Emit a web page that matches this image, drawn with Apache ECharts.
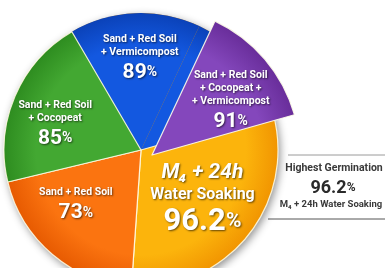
<!DOCTYPE html>
<html>
<head>
<meta charset="utf-8">
<style>
html, body { margin: 0; padding: 0; background: #fff; }
#chart { width: 385px; height: 268px; }
</style>
<script src="https://cdn.jsdelivr.net/npm/echarts@6/dist/echarts.min.js"></script>
</head>
<body>
<div id="chart"></div>
<script>
// soil mixes, clockwise from the top slice
var mixes = ['Sand + Red Soil\n+ Vermicompost', 'Sand + Red Soil\n+ Cocopeat +\n+ Vermicompost', 'M₄ + 24h\nWater Soaking', 'Sand + Red Soil', 'Sand + Red Soil\n+ Cocopeat'];
var germination = [89, 91, 96.2, 73, 85];
// share of the circle each slice takes in the picture (degrees)
var sliceShare = [55.5, 49, 109.8, 72.5, 73.2];

var font = "'Roboto', sans-serif";
var best = germination.indexOf(Math.max.apply(null, germination));
var popped = 1;

var palette = [
	['#1358e0', '#0a40b5'],
	['#8447bc', '#672c98'],
	['#fcb40c', '#f09200'],
	['#fb7410', '#e55800'],
	['#43a832', '#2c8a1e']
];
// label nudges, px
var nudgeX = [2, 20, 6, -19, -20];
var nudgeY = [-19, -3, 5, 2, 4];

function grad(i, cx, cy, r) {
	return {
		type: 'radial', x: cx, y: cy, r: r, global: true,
		colorStops: [{offset: 0, color: palette[i][0]}, {offset: 0.75, color: palette[i][0]}, {offset: 1, color: palette[i][1]}]
	};
}

function labelText(i) {
	var lines = mixes[i].split('\n');
	var out = [];
	if (i == best) {
		out.push('{big1|' + lines[0] + '}');
		out.push('{big2|' + lines[1] + '}');
		out.push('{bigNum|' + germination[i] + '}{bigPct|%}');
	} else {
		for (var k = 0; k < lines.length; k++) out.push('{name|' + lines[k] + '}');
		out.push('{num|' + germination[i] + '}{pct|%}');
	}
	return out.join('\n');
}

var labelRich = {
	name: {fontSize: 10.5, fontWeight: 'bold', color: '#fff', fontFamily: font, lineHeight: 13},
	num: {fontSize: 21, fontWeight: 'bold', color: '#fff', fontFamily: font, lineHeight: 28},
	pct: {fontSize: 14, fontWeight: 'bold', color: '#fff', fontFamily: font, lineHeight: 28},
	big1: {fontSize: 21, fontWeight: 'bold', fontStyle: 'italic', color: '#fff', fontFamily: font, lineHeight: 23},
	big2: {fontSize: 16, fontWeight: 'bold', color: '#fff', fontFamily: font, lineHeight: 21},
	bigNum: {fontSize: 31, fontWeight: 'bold', color: '#fff', fontFamily: font, lineHeight: 34},
	bigPct: {fontSize: 21, fontWeight: 'bold', color: '#fff', fontFamily: font, lineHeight: 34}
};

var mainData = [], popData = [];
for (var i = 0; i < mixes.length; i++) {
	var isPop = i == popped;
	mainData.push({
		name: mixes[i],
		value: sliceShare[i],
		itemStyle: {
			color: isPop ? grad(0, 141, 150, 140) : grad(i, 141, 150, 140),
			borderWidth: (i == 0 || isPop) ? 0 : 1.2
		},
		label: {show: !isPop}
	});
	popData.push({
		name: mixes[i],
		value: sliceShare[i],
		itemStyle: isPop ? {color: grad(i, 152, 155, 150), borderWidth: 1.2} : {color: 'rgba(0,0,0,0)', borderWidth: 0},
		label: {show: isPop}
	});
}

var labelBase = {
	position: 'inside',
	formatter: function(p) { return labelText(p.dataIndex); },
	rich: labelRich,
	textShadowColor: 'rgba(0,0,0,0.6)',
	textShadowBlur: 2,
	textShadowOffsetX: 1,
	textShadowOffsetY: 1
};

function nudge(p) {
	return {dx: nudgeX[p.dataIndex], dy: nudgeY[p.dataIndex]};
}

var myChart = echarts.init(document.getElementById('chart'));
var option = {
	animation: false,
	series: [
		{
			type: 'pie',
			silent: true,
			center: [141, 150],
			radius: 137,
			label: {show: false},
			itemStyle: {color: '#e89000', shadowBlur: 8, shadowColor: 'rgba(0,0,0,0.45)', shadowOffsetX: 2, shadowOffsetY: 3},
			data: [{value: 1}]
		},
		{
			type: 'pie',
			center: [141, 150],
			radius: 137,
			startAngle: 120.3,
			clockwise: true,
			avoidLabelOverlap: false,
			itemStyle: {borderColor: 'rgba(255,255,235,0.85)'},
			label: labelBase,
			labelLine: {show: false},
			labelLayout: nudge,
			emphasis: {disabled: true},
			data: mainData
		},
		{
			type: 'pie',
			center: [152, 155],
			radius: 148,
			startAngle: 120.3,
			clockwise: true,
			avoidLabelOverlap: false,
			itemStyle: {borderColor: 'rgba(255,255,235,0.9)'},
			label: labelBase,
			labelLine: {show: false},
			labelLayout: nudge,
			emphasis: {disabled: true},
			data: popData
		}
	],
	graphic: [
		{type: 'line', shape: {x1: 288, y1: 155, x2: 385, y2: 155}, style: {stroke: '#9a9a9a', lineWidth: 1}},
		{type: 'line', shape: {x1: 268, y1: 219, x2: 385, y2: 219}, style: {stroke: '#555', lineWidth: 1}},
		{type: 'text', x: 334, y: 168, style: {text: 'Highest Germination', fill: '#3a3a3a', font: 'bold 10.5px ' + font, align: 'center', verticalAlign: 'middle'}},
		{type: 'text', x: 333, y: 188, style: {
			text: '{v|' + germination[best] + '}{p|%}', align: 'center', verticalAlign: 'middle',
			rich: {
				v: {fontSize: 18, fontWeight: 'bold', fontFamily: font, fill: '#2a2a2a'},
				p: {fontSize: 12, fontWeight: 'bold', fontFamily: font, fill: '#2a2a2a'}
			}
		}},
		{type: 'text', x: 331, y: 205, style: {text: mixes[best].replace('\n', ' '), fill: '#3a3a3a', font: 'bold 9.5px ' + font, align: 'center', verticalAlign: 'middle'}}
	]
};
myChart.setOption(option);
</script>
</body>
</html>
